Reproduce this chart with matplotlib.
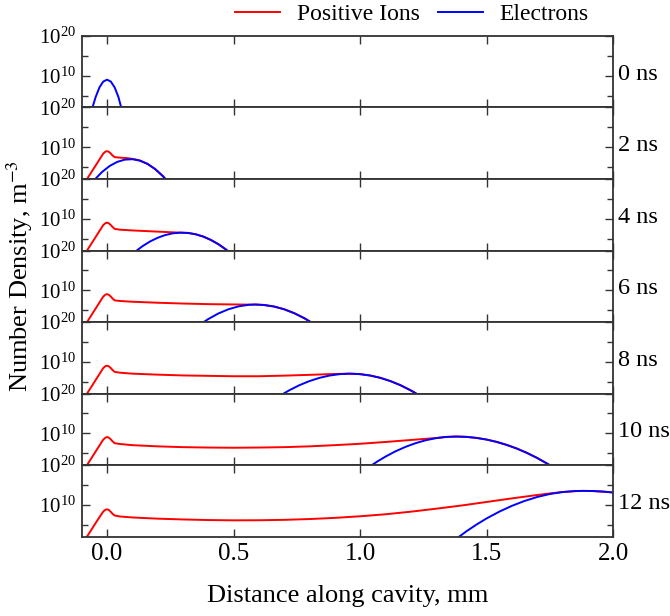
"""
Stacked density profiles of ions and electrons along the cavity
"""

import numpy as np
import matplotlib.pyplot as plt
from matplotlib.ticker import FixedLocator, NullFormatter, FormatStrFormatter
from matplotlib.transforms import blended_transform_factory

plt.rcParams["font.family"] = ["Liberation Serif", "DejaVu Serif"]
plt.rcParams["mathtext.fontset"] = "stix"

TIMES = [0, 2, 4, 6, 8, 10, 12]

# log10 of the number density
RISE_X = [-0.09, -0.079, -0.04, -0.015, -0.006, 0.0, 0.007, 0.015, 0.022, 0.03]

ions_2_x = RISE_X + [0.05, 0.08, 0.11, 0.13, 0.16, 0.19, 0.22, 0.235]
ions_2_y = [1.2, 2.0, 5.9, 8.4, 8.9, 9.0, 8.85, 8.4, 7.9, 7.5,
            7.38, 7.25, 6.95, 6.63, 5.8, 4.51, 2.76, 1.71]
elec_2_x = [-0.05, -0.02, 0.01, 0.04, 0.07, 0.10, 0.13, 0.16, 0.19, 0.22, 0.235]
elec_2_y = [1.78, 3.75, 5.26, 6.3, 6.87, 6.98, 6.63, 5.8, 4.51, 2.76, 1.71]

ions_4_x = RISE_X + [0.05, 0.1, 0.15, 0.2, 0.25, 0.29, 0.32, 0.35, 0.38, 0.41, 0.44, 0.47, 0.485]
ions_4_y = [1.2, 2.0, 5.9, 8.4, 8.9, 9.0, 8.85, 8.4, 7.9, 7.45,
            7.25, 7.05, 6.9, 6.75, 6.6, 6.5, 6.42, 6.09, 5.51, 4.67, 3.59, 2.25, 1.48]
elec_4_x = [0.11, 0.14, 0.17, 0.20, 0.23, 0.26, 0.29, 0.32, 0.35, 0.38, 0.41, 0.44, 0.47, 0.485]
elec_4_y = [1.64, 3.08, 4.27, 5.2, 5.89, 6.32, 6.49, 6.42, 6.09, 5.51, 4.67, 3.59, 2.25, 1.48]

ions_6_x = RISE_X + [0.05, 0.1, 0.2, 0.3, 0.4, 0.5, 0.56, 0.586, 0.62, 0.66, 0.70, 0.74, 0.78, 0.81]
ions_6_y = [1.2, 2.0, 5.9, 8.4, 8.9, 9.0, 8.85, 8.4, 7.9, 7.45,
            7.3, 7.1, 6.85, 6.65, 6.5, 6.42, 6.38, 6.4, 6.29, 5.9, 5.21, 4.22, 2.95, 1.8]
elec_6_x = [0.37, 0.40, 0.44, 0.48, 0.52, 0.56, 0.586, 0.62, 0.66, 0.70, 0.74, 0.78, 0.81]
elec_6_y = [1.47, 2.74, 4.15, 5.21, 5.94, 6.33, 6.4, 6.29, 5.9, 5.21, 4.22, 2.95, 1.8]

ions_8_x = RISE_X + [0.05, 0.1, 0.2, 0.3, 0.4, 0.5, 0.6, 0.7, 0.8, 0.9, 0.96,
                     1.00, 1.04, 1.08, 1.12, 1.16, 1.20, 1.23]
ions_8_y = [1.2, 2.0, 5.9, 8.4, 8.9, 9.0, 8.85, 8.4, 7.9, 7.45,
            7.25, 7.0, 6.75, 6.55, 6.45, 6.35, 6.35, 6.5, 6.7, 6.92, 7.0,
            6.88, 6.53, 5.95, 5.13, 4.09, 2.8, 1.69]
elec_8_x = [0.69, 0.72, 0.76, 0.80, 0.84, 0.88, 0.92, 0.96, 1.00, 1.04, 1.08, 1.12, 1.16, 1.20, 1.23]
elec_8_y = [1.69, 2.8, 4.09, 5.13, 5.95, 6.53, 6.88, 7.0, 6.88, 6.53, 5.95, 5.13, 4.09, 2.8, 1.69]

ions_10_x = RISE_X + [0.05, 0.1, 0.2, 0.3, 0.4, 0.5, 0.6, 0.7, 0.8, 0.9, 1.0, 1.1, 1.2, 1.3, 1.34,
                      1.38, 1.42, 1.46, 1.50, 1.54, 1.58, 1.62, 1.66, 1.70, 1.74, 1.755]
ions_10_y = [1.2, 2.0, 5.9, 8.4, 8.9, 9.05, 8.9, 8.45, 7.95, 7.5,
             7.3, 7.0, 6.7, 6.5, 6.4, 6.35, 6.4, 6.5, 6.7, 7.0, 7.35, 7.8, 8.3, 8.8, 9.07,
             9.17, 9.09, 8.83, 8.41, 7.82, 7.06, 6.14, 5.04, 3.78, 2.34, 1.77]
elec_10_x = [1.04, 1.07, 1.10, 1.14, 1.18, 1.22, 1.26, 1.30, 1.34, 1.38,
             1.42, 1.46, 1.50, 1.54, 1.58, 1.62, 1.66, 1.70, 1.74, 1.755]
elec_10_y = [1.7, 2.96, 4.1, 5.45, 6.58, 7.51, 8.24, 8.76, 9.07, 9.17,
             9.09, 8.83, 8.41, 7.82, 7.06, 6.14, 5.04, 3.78, 2.34, 1.77]

ions_12_x = RISE_X + [0.05, 0.1, 0.2, 0.3, 0.4, 0.5, 0.6, 0.7, 0.8, 0.9, 1.0, 1.1, 1.2, 1.3,
                      1.4, 1.5, 1.6, 1.7, 1.75, 1.80, 1.85, 1.88, 1.92, 1.96, 2.0]
ions_12_y = [1.2, 2.0, 5.9, 8.3, 8.75, 8.85, 8.7, 8.2, 7.7, 7.3,
             7.05, 6.8, 6.5, 6.3, 6.15, 6.08, 6.1, 6.2, 6.4, 6.7, 7.1, 7.6, 8.25, 9.0,
             9.8, 10.7, 11.6, 12.45, 12.85, 13.2, 13.42, 13.48, 13.44, 13.3, 13.08]
elec_12_x = [1.38, 1.42, 1.46, 1.50, 1.55, 1.60, 1.65, 1.70, 1.75, 1.80, 1.85, 1.88, 1.92, 1.96, 2.0]
elec_12_y = [1.4, 3.3, 5.0, 6.55, 8.25, 9.72, 10.95, 11.95, 12.7, 13.2, 13.45, 13.5, 13.46, 13.32, 13.1]

elec_0_x = [-0.06, -0.045, -0.03, -0.015, 0.0, 0.015, 0.03, 0.045, 0.058]
elec_0_y = [1.5, 4.64, 7.06, 8.52, 9.0, 8.52, 7.06, 4.64, 1.5]

ION_X = [None, ions_2_x, ions_4_x, ions_6_x, ions_8_x, ions_10_x, ions_12_x]
ION_Y = [None, ions_2_y, ions_4_y, ions_6_y, ions_8_y, ions_10_y, ions_12_y]
ELEC_X = [elec_0_x, elec_2_x, elec_4_x, elec_6_x, elec_8_x, elec_10_x, elec_12_x]
ELEC_Y = [elec_0_y, elec_2_y, elec_4_y, elec_6_y, elec_8_y, elec_10_y, elec_12_y]

fig, axes = plt.subplots(7, 1, figsize=(6.7, 6.16), dpi=100, sharex=True,
                         gridspec_kw=dict(hspace=0))
fig.subplots_adjust(left=0.122, right=0.915, top=0.9416, bottom=0.129)

for i, ax in enumerate(axes):
    if ION_X[i] is not None:
        ax.plot(ION_X[i], 10 ** np.array(ION_Y[i]), color="#ff0000", lw=1.4,
                label="Positive Ions")
    ax.plot(ELEC_X[i], 10 ** np.array(ELEC_Y[i]), color="#0000ff", lw=1.4,
            label="Electrons")

    ax.set_yscale("log")
    ax.set_ylim(1e2, 1e20)
    ax.yaxis.set_major_locator(FixedLocator([1e10, 1e20]))
    ax.yaxis.set_minor_locator(FixedLocator([1e5, 1e15]))
    ax.yaxis.set_minor_formatter(NullFormatter())
    ax.set_xlim(-0.1, 2.0)
    ax.set_xticks([0.0, 0.5, 1.0, 1.5, 2.0])
    ax.xaxis.set_major_formatter(FormatStrFormatter("%.1f"))

    ax.tick_params(which="both", direction="in", top=True, right=True,
                   color="#333333", labelsize=15, pad=4)
    ax.tick_params(which="major", length=6, width=1.0)
    ax.tick_params(which="minor", length=4, width=1.0)
    for s in ax.spines.values():
        s.set_color("#333333")
        s.set_linewidth(1.3)

    trans = blended_transform_factory(ax.transAxes, ax.transData)
    ax.text(1.01, 10 ** 10.4, f"{TIMES[i]} ns", transform=trans,
            ha="left", va="center", fontsize=17.5)

axes[-1].tick_params(axis="x", labelsize=18, pad=5)
axes[-1].set_xlabel("Distance along cavity, mm", fontsize=19, labelpad=14)
fig.text(0.03, 0.552, "Number Density, m$^{-3}$", rotation=90,
         ha="center", va="center", fontsize=19)

handles = [axes[1].lines[0], axes[1].lines[1]]
fig.legend(handles, ["Positive Ions", "Electrons"], loc="center",
           bbox_to_anchor=(0.615, 0.977), ncol=2, frameon=False, fontsize=17,
           handlelength=1.9, columnspacing=0.8, handletextpad=0.7)

plt.savefig("out.png", dpi=100)
